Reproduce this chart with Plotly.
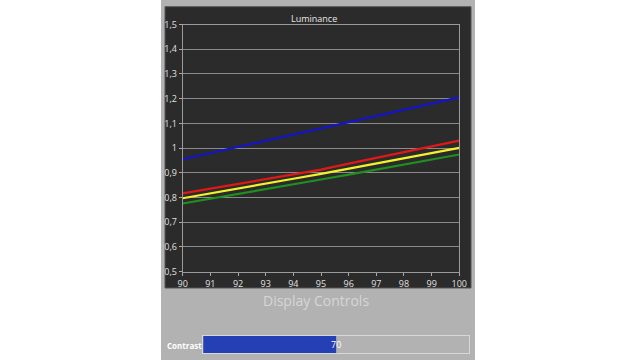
import plotly.graph_objects as go

# ---- data ----
x_vals = [90, 91, 92, 93, 94, 95, 96, 97, 98, 99, 100]
blue = [0.955, 0.980, 1.005, 1.030, 1.055, 1.080, 1.105, 1.130, 1.155, 1.180, 1.205]
red = [0.817, 0.836, 0.855, 0.874, 0.893, 0.913, 0.937, 0.961, 0.984, 1.006, 1.030]
yellow = [0.797, 0.816, 0.836, 0.856, 0.876, 0.896, 0.917, 0.938, 0.959, 0.980, 1.001]
green = [0.776, 0.795, 0.814, 0.833, 0.853, 0.873, 0.893, 0.913, 0.933, 0.953, 0.974]
y_ticks = [0.5, 0.6, 0.7, 0.8, 0.9, 1.0, 1.1, 1.2, 1.3, 1.4, 1.5]
y_ticktext = ["0,5", "0,6", "0,7", "0,8", "0,9", "1", "1,1", "1,2", "1,3", "1,4", "1,5"]
x_ticks = [90, 91, 92, 93, 94, 95, 96, 97, 98, 99, 100]
contrast_value = 70
contrast_range = [40, 100]

W, H = 640, 360
def px(x): return x / W
def py(y): return 1 - y / H

FONT = "Open Sans"
fig = go.Figure()

series = [
    (green, "#1f8f1f"),
    (yellow, "#f2f22a"),
    (red, "#e01818"),
    (blue, "#1414c8"),
]
for ys, col in series:
    fig.add_trace(go.Scatter(x=x_vals, y=ys, mode="lines",
                             line=dict(color=col, width=2.2),
                             showlegend=False, hoverinfo="skip"))

fig.add_trace(go.Bar(x=[contrast_value], y=[0], orientation="h",
                     marker=dict(color="#2440b4", line=dict(width=0)),
                     width=1, xaxis="x2", yaxis="y2",
                     showlegend=False, hoverinfo="skip"))

shapes = [
    dict(type="rect", xref="paper", yref="paper", x0=px(161), x1=px(475), y0=0, y1=1,
         fillcolor="#b2b2b2", line=dict(width=0), layer="below"),
    dict(type="rect", xref="paper", yref="paper", x0=px(165), x1=px(471), y0=py(288), y1=py(6.7),
         fillcolor="#2b2b2b", line=dict(color="#555555", width=1), layer="below"),
]

annotations = [
    dict(text="Luminance", xref="paper", yref="paper", x=px(314), y=py(18),
         showarrow=False, font=dict(family=FONT, size=9, color="#e8e8e8"),
         xanchor="center", yanchor="middle"),
    dict(text="Display Controls", xref="paper", yref="paper", x=px(316), y=py(300),
         showarrow=False, font=dict(family=FONT, size=14, color="#d6d6d6"),
         xanchor="center", yanchor="middle"),
    dict(text="<b>Contrast</b>", xref="paper", yref="paper", x=px(165), y=py(345),
         showarrow=False, font=dict(family=FONT, size=8, color="#ffffff"),
         xanchor="left", yanchor="middle"),
    dict(text=str(contrast_value), xref="x2", yref="y2", x=contrast_value, y=0,
         showarrow=False, font=dict(family=FONT, size=9, color="#ffffff"),
         xanchor="center", yanchor="middle"),
]

fig.update_layout(
    width=W, height=H,
    autosize=False,
    margin=dict(l=0, r=0, t=0, b=0, pad=0, autoexpand=False),
    paper_bgcolor="#ffffff",
    plot_bgcolor="#222222",
    shapes=shapes,
    annotations=annotations,
    xaxis=dict(domain=[px(182.7), px(459.3)], range=[90, 100], automargin=False,
               tickvals=x_ticks, ticks="outside", ticklen=3, tickcolor="#aaaaaa",
               showgrid=False, zeroline=False,
               showline=True, linecolor="#9a9a9a", linewidth=1, mirror=True,
               tickfont=dict(family=FONT, size=9, color="#e0e0e0"), fixedrange=True),
    yaxis=dict(domain=[py(271.7), py(24.5)], range=[0.5, 1.5], automargin=False,
               tickvals=y_ticks, ticktext=y_ticktext,
               ticks="outside", ticklen=3, tickcolor="#aaaaaa",
               showgrid=True, gridcolor="#8a8a8a", gridwidth=1, zeroline=False,
               showline=True, linecolor="#9a9a9a", linewidth=1, mirror=True,
               tickfont=dict(family=FONT, size=9, color="#e0e0e0"), fixedrange=True),
    xaxis2=dict(domain=[px(203.3), px(469)], range=contrast_range, anchor="y2",
                automargin=False, fixedrange=True,
                showticklabels=False, showgrid=False, zeroline=False, ticks="",
                showline=True, linecolor="#d8d8d8", linewidth=1, mirror=True),
    yaxis2=dict(domain=[py(353.3), py(335.7)], range=[-0.5, 0.5], anchor="x2",
                automargin=False, fixedrange=True,
                showticklabels=False, showgrid=False, zeroline=False, ticks="",
                showline=True, linecolor="#d8d8d8", linewidth=1, mirror=True),
)

fig.write_html("out.html",
               config={"displayModeBar": False, "staticPlot": True},
               post_script="document.body.style.margin='0px';document.body.style.overflow='hidden';")
